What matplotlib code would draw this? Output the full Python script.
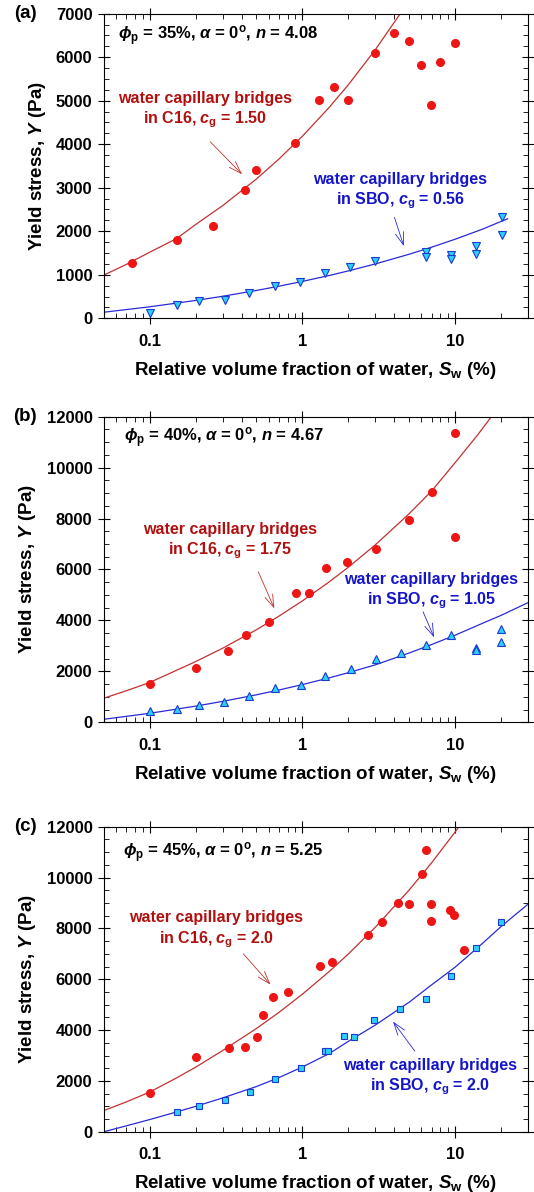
import matplotlib
matplotlib.use("Agg")
import matplotlib.pyplot as plt
from matplotlib.ticker import FixedLocator, FixedFormatter, LogLocator, MultipleLocator, NullFormatter

plt.rcParams['font.family'] = ['Liberation Sans', 'DejaVu Sans']
plt.rcParams['font.weight'] = 'bold'
plt.rcParams['axes.labelweight'] = 'bold'
plt.rcParams['mathtext.fontset'] = 'custom'
plt.rcParams['mathtext.rm'] = 'Liberation Sans:bold'
plt.rcParams['mathtext.it'] = 'Liberation Sans:bold:italic'
plt.rcParams['mathtext.bf'] = 'Liberation Sans:bold'

# ---------------- data ----------------
# panel (a): phi_p = 35 %
a_c16_x = [0.077, 0.15, 0.26, 0.42, 0.50, 0.90, 1.29, 1.61, 2.0, 2.98, 3.97, 4.98, 5.97, 6.98, 7.95, 10.0]
a_c16_y = [1268, 1789, 2111, 2954, 3398, 4027, 5008, 5307, 5008, 6103, 6548, 6379, 5812, 4908, 5881, 6318]
a_sbo_x = [0.10, 0.15, 0.21, 0.31, 0.45, 0.66, 0.97, 1.41, 2.06, 3.0, 6.44, 6.44, 9.34, 9.34, 13.7, 13.7, 20.1, 20.1]
a_sbo_y = [130, 303, 387, 425, 579, 732, 824, 1046, 1169, 1307, 1513, 1413, 1444, 1352, 1651, 1475, 2333, 1904]
a_fit_c16_x = [0.05, 0.07, 0.1, 0.15, 0.2, 0.3, 0.5, 0.7, 1, 1.5, 2, 3, 4.4]
a_fit_c16_y = [990, 1233, 1517, 1830, 2154, 2586, 3201, 3655, 4184, 4850, 5369, 6173, 7017]
a_fit_sbo_x = [0.05, 0.1, 0.2, 0.3, 0.5, 0.7, 1, 1.5, 2, 3, 5, 7, 10, 15, 22]
a_fit_sbo_y = [138, 263, 409, 505, 639, 736, 847, 984, 1089, 1249, 1472, 1633, 1817, 2045, 2287]

# panel (b): phi_p = 40 %
b_c16_x = [0.1, 0.2, 0.325, 0.428, 0.609, 0.905, 1.10, 1.435, 1.97, 3.03, 5.0, 7.04, 10.0, 10.0]
b_c16_y = [1502, 2143, 2811, 3426, 3937, 5063, 5063, 6044, 6306, 6817, 7929, 9055, 11346, 7288]
b_sbo_x = [0.1, 0.151, 0.211, 0.309, 0.45, 0.666, 0.975, 1.413, 2.07, 3.02, 4.39, 6.43, 9.37, 13.65, 13.65, 20.0, 20.0]
b_sbo_y = [442, 520, 664, 782, 1031, 1358, 1463, 1816, 2078, 2497, 2706, 3021, 3426, 2903, 2850, 3662, 3138]
b_fit_c16_x = [0.05, 0.07, 0.1, 0.15, 0.2, 0.3, 0.5, 0.7, 1, 1.5, 2, 3, 5, 7, 10, 14, 18]
b_fit_c16_y = [940, 1231, 1560, 2039, 2381, 2903, 3632, 4161, 4766, 5516, 6091, 6967, 8192, 9078, 10200, 11280, 12150]
b_fit_sbo_x = [0.05, 0.1, 0.2, 0.3, 0.5, 0.7, 1, 1.5, 2, 3, 5, 7, 10, 15, 20, 30]
b_fit_sbo_y = [115, 350, 632, 818, 1077, 1265, 1479, 1744, 1947, 2255, 2720, 3050, 3420, 3880, 4200, 4700]

# panel (c): phi_p = 45 %
c_c16_x = [0.1, 0.2015, 0.333, 0.4215, 0.5026, 0.5557, 0.646, 0.81, 1.305, 1.556, 2.676, 3.304, 4.25, 4.96,
           6.04, 6.45, 6.98, 6.95, 9.2, 9.88, 11.4]
c_c16_y = [1515, 2957, 3298, 3325, 3718, 4610, 5292, 5515, 6512, 6695, 7744, 8243, 8990, 8951,
           10131, 11089, 8951, 8308, 8728, 8544, 7141]
c_sbo_x = [0.151, 0.212, 0.313, 0.452, 0.662, 0.975, 1.407, 1.465, 1.883, 2.19, 2.93, 4.38, 6.45, 9.39, 13.75, 19.95]
c_sbo_y = [780, 1003, 1252, 1580, 2066, 2498, 3193, 3193, 3784, 3731, 4400, 4820, 5239, 6144, 7246, 8243]
c_fit_c16_x = [0.05, 0.07, 0.1, 0.15, 0.2, 0.3, 0.5, 0.7, 1, 1.5, 2, 3, 5, 7, 10, 11]
c_fit_c16_y = [833, 1170, 1560, 2120, 2540, 3194, 4062, 4692, 5414, 6310, 6998, 8047, 9515, 10579, 11800, 12144]
c_fit_sbo_x = [0.05, 0.07, 0.1, 0.15, 0.2, 0.3, 0.5, 0.7, 1, 1.5, 2, 3, 5, 7, 10, 15, 20, 30]
c_fit_sbo_y = [0, 230, 480, 780, 1000, 1330, 1780, 2130, 2550, 3080, 3560, 4200, 5100, 5780, 6480, 7400, 8080, 8960]

panel_tags = ['(a)', '(b)', '(c)']
headers = [r'$\phi_{\rm p}$ = 35%, $\alpha$ = 0$^{\rm o}$, $n$ = 4.08',
           r'$\phi_{\rm p}$ = 40%, $\alpha$ = 0$^{\rm o}$, $n$ = 4.67',
           r'$\phi_{\rm p}$ = 45%, $\alpha$ = 0$^{\rm o}$, $n$ = 5.25']
c16_labels = ['water capillary bridges\nin C16, $c_{\\rm g}$ = 1.50',
              'water capillary bridges\nin C16, $c_{\\rm g}$ = 1.75',
              'water capillary bridges\nin C16, $c_{\\rm g}$ = 2.0']
sbo_labels = ['water capillary bridges\nin SBO, $c_{\\rm g}$ = 0.56',
              'water capillary bridges\nin SBO, $c_{\\rm g}$ = 1.05',
              'water capillary bridges\nin SBO, $c_{\\rm g}$ = 2.0']
y_tops = [7000, 12000, 12000]
y_steps = [1000, 2000, 2000]
y_minor = [250, 500, 500]

RED_PT = '#ee1515'
RED_LINE = '#c43030'
RED_TXT = '#b01010'
BLUE_LINE = '#2a2ad8'
BLUE_TXT = '#1515c8'
CYAN = '#2cd0ff'
BLUE_EDGE = '#1a3ad0'

fig = plt.figure(figsize=(5.34, 11.92), dpi=100)
ax_a = fig.add_axes([0.194, 0.733, 0.795, 0.2555])
ax_b = fig.add_axes([0.194, 0.3941, 0.795, 0.2563])
ax_c = fig.add_axes([0.194, 0.0505, 0.795, 0.2559])
axes = [ax_a, ax_b, ax_c]

# measured points
ax_a.plot(a_c16_x, a_c16_y, 'o', color=RED_PT, ms=5.5, mec=RED_PT, zorder=3)
ax_a.plot(a_sbo_x, a_sbo_y, 'v', mfc=CYAN, mec=BLUE_EDGE, mew=0.8, ms=5.5, zorder=3)
ax_b.plot(b_c16_x, b_c16_y, 'o', color=RED_PT, ms=5.5, mec=RED_PT, zorder=3)
ax_b.plot(b_sbo_x, b_sbo_y, '^', mfc=CYAN, mec=BLUE_EDGE, mew=0.8, ms=5.5, zorder=3)
ax_c.plot(c_c16_x, c_c16_y, 'o', color=RED_PT, ms=5.5, mec=RED_PT, zorder=3)
ax_c.plot(c_sbo_x, c_sbo_y, 's', mfc=CYAN, mec=BLUE_EDGE, mew=0.8, ms=4.8, zorder=3)

# model curves
ax_a.plot(a_fit_c16_x, a_fit_c16_y, color=RED_LINE, lw=0.9)
ax_a.plot(a_fit_sbo_x, a_fit_sbo_y, color=BLUE_LINE, lw=0.9)
ax_b.plot(b_fit_c16_x, b_fit_c16_y, color=RED_LINE, lw=0.9)
ax_b.plot(b_fit_sbo_x, b_fit_sbo_y, color=BLUE_LINE, lw=0.9)
ax_c.plot(c_fit_c16_x, c_fit_c16_y, color=RED_LINE, lw=0.9)
ax_c.plot(c_fit_sbo_x, c_fit_sbo_y, color=BLUE_LINE, lw=0.9)

# text positions (data coords): header, C16 label, C16 arrow, SBO label, SBO arrow
header_pos = [(0.062, 6487), (0.068, 11166), (0.067, 10968)]
c16_pos = [(0.230, 4775), (0.338, 7092), (0.274, 7939)]
c16_arrow = [((0.242, 4103), (0.415, 3262)), ((0.506, 6008), (0.666, 4370)), ((0.399, 7085), (0.636, 5708))]
sbo_pos = [(4.37, 2924), (7.0, 5128), (6.81, 2144)]
sbo_arrow = [((3.95, 2379), (4.67, 1598)), ((6.06, 4437), (7.40, 3231)), ((5.57, 3088), (3.82, 4426))]

for i, ax in enumerate(axes):
    ax.set_xscale('log')
    ax.set_xlim(0.05, 30)
    ax.set_ylim(0, y_tops[i])
    ax.xaxis.set_major_locator(FixedLocator([0.1, 1, 10]))
    ax.xaxis.set_major_formatter(FixedFormatter(['0.1', '1', '10']))
    ax.xaxis.set_minor_locator(LogLocator(base=10, subs=range(2, 10)))
    ax.xaxis.set_minor_formatter(NullFormatter())
    ax.yaxis.set_major_locator(MultipleLocator(y_steps[i]))
    ax.yaxis.set_minor_locator(MultipleLocator(y_minor[i]))
    ax.tick_params(which='major', direction='inout', length=8, width=0.8,
                   top=True, right=True, labelsize=12, pad=4)
    ax.tick_params(axis='x', which='major', pad=7)
    ax.tick_params(which='minor', direction='in', length=3.5, width=0.6, top=True, right=True)
    for lab in ax.get_xticklabels() + ax.get_yticklabels():
        lab.set_fontweight('bold')
    for s in ax.spines.values():
        s.set_linewidth(0.8)
    ax.set_xlabel(r'Relative volume fraction of water, $S_{\rm w}$ (%)', fontsize=13.5, labelpad=8)
    ax.set_ylabel(r'Yield stress, $Y$ (Pa)', fontsize=13.5, labelpad=6)

    ax.text(header_pos[i][0], header_pos[i][1], headers[i], fontsize=12, ha='left', va='center')
    ax.text(c16_pos[i][0], c16_pos[i][1], c16_labels[i], fontsize=11.5, color=RED_TXT,
            ha='center', va='center', linespacing=1.25)
    ax.annotate('', xy=c16_arrow[i][1], xytext=c16_arrow[i][0],
                arrowprops=dict(arrowstyle='->, head_length=0.9, head_width=0.3', color=RED_LINE, lw=0.6))
    ax.text(sbo_pos[i][0], sbo_pos[i][1], sbo_labels[i], fontsize=11.5, color=BLUE_TXT,
            ha='center', va='center', linespacing=1.25)
    ax.annotate('', xy=sbo_arrow[i][1], xytext=sbo_arrow[i][0],
                arrowprops=dict(arrowstyle='->, head_length=0.9, head_width=0.3', color=BLUE_LINE, lw=0.6))

    # panel letter next to the top tick label
    pos = ax.get_position()
    fig.text(0.047, pos.y1, panel_tags[i], fontsize=13.5, ha='center', va='center')

fig.savefig('out.png', dpi=100)
